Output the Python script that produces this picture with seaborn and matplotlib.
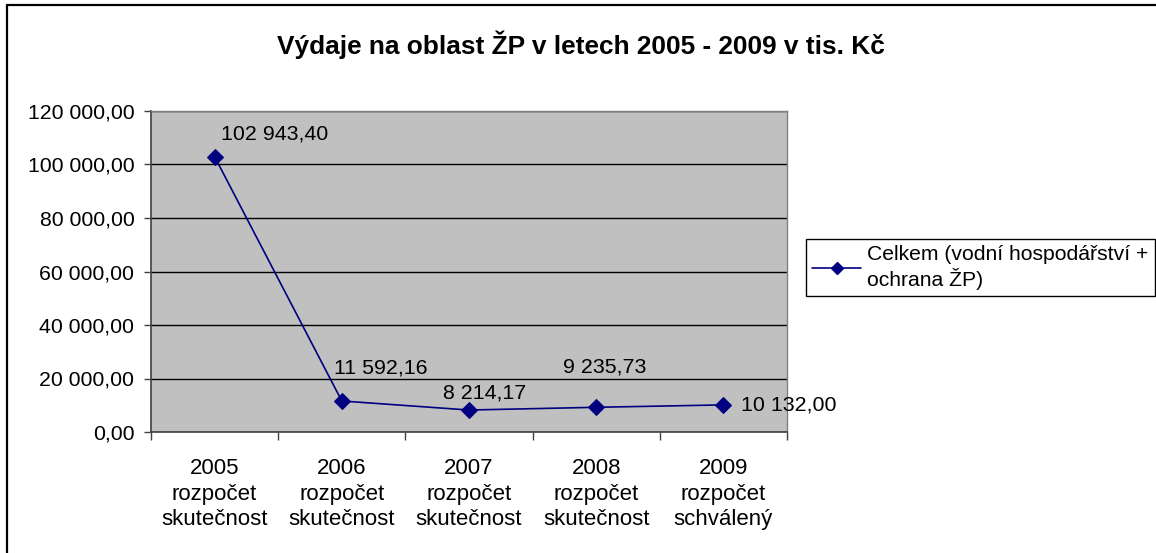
import matplotlib
matplotlib.use("Agg")
import matplotlib.pyplot as plt
import seaborn as sns
import pandas as pd
from matplotlib.ticker import FixedLocator, FuncFormatter
from matplotlib.lines import Line2D

# ======== DATA ========
years = ["2005", "2006", "2007", "2008", "2009"]
kinds = ["rozpočet\nskutečnost", "rozpočet\nskutečnost", "rozpočet\nskutečnost",
         "rozpočet\nskutečnost", "rozpočet\nschválený"]
values = [102943.40, 11592.16, 8214.17, 9235.73, 10132.00]
series_name = "Celkem (vodní hospodářství +\nochrana ŽP)"
title = "Výdaje na oblast ŽP v letech 2005 - 2009 v tis. Kč"

# label offsets in pixels (left edge of text relative to point)
label_dx = [6, -8, -26, -33, 18]
label_dy = [23, 33, 17, 40, 0]


def cz_fmt(v, pos=None):
    return f"{v:,.2f}".replace(",", " ").replace(".", ",")


df = pd.DataFrame({"pos": range(len(years)), "value": values,
                   "label": [f"{y}\n{k}" for y, k in zip(years, kinds)]})

# ======== STYLE ========
sns.set_theme(style="white")
plt.rcParams["font.family"] = ["Liberation Sans", "DejaVu Sans"]
plt.rcParams["text.color"] = "black"
plt.rcParams["xtick.color"] = "black"
plt.rcParams["ytick.color"] = "black"

fig = plt.figure(figsize=(11.56, 5.53), dpi=100)
ax = fig.add_axes([151 / 1156, 1 - 432 / 553, 636 / 1156, 321 / 553])
ax.set_facecolor("#C0C0C0")

sns.lineplot(data=df, x="pos", y="value", ax=ax, color="#000080", marker="D",
             markersize=8, markeredgecolor="#000080", linewidth=1.2, legend=False)

# ======== AXES ========
ax.set_xlim(-0.5, len(years) - 0.5)
ax.set_ylim(0, 120000)
ax.yaxis.set_major_locator(FixedLocator(range(0, 120001, 20000)))
ax.yaxis.set_major_formatter(FuncFormatter(cz_fmt))
ax.grid(axis="y", color="black", linewidth=1)
ax.set_axisbelow(True)

ax.xaxis.set_major_locator(FixedLocator([i - 0.5 for i in range(len(years) + 1)]))
ax.xaxis.set_major_formatter(FuncFormatter(lambda v, p: ""))
ax.xaxis.set_minor_locator(FixedLocator(df["pos"].tolist()))
ax.set_xticklabels(df["label"], minor=True)
ax.tick_params(axis="x", which="major", length=6, width=1, color="#404040", direction="out", bottom=True)
ax.tick_params(axis="x", which="minor", length=0, pad=19, labelsize=16, labelcolor="black")
ax.tick_params(axis="y", length=5, width=1, color="#404040", direction="out", left=True,
               labelsize=15.3, pad=7, labelcolor="black")
ax.set_xlabel("")
ax.set_ylabel("")
for lbl in ax.get_xticklabels(minor=True):
    lbl.set_linespacing(1.28)
    lbl.set_ha("center")

for side in ["left", "bottom"]:
    ax.spines[side].set_color("#404040")
    ax.spines[side].set_linewidth(1.2)
for side in ["top", "right"]:
    ax.spines[side].set_color("#808080")
    ax.spines[side].set_linewidth(1)

# ======== DATA LABELS ========
for i, v in enumerate(values):
    ax.annotate(cz_fmt(v), (i, v), xytext=(label_dx[i] * 0.72, label_dy[i] * 0.72),
                textcoords="offset points", ha="left", va="center", fontsize=15.4,
                color="black")

# ======== TITLE ========
fig.text(581 / 1156, 1 - 45 / 553, title, ha="center", va="center",
         fontsize=18.9, fontweight="bold", color="black")

# ======== LEGEND ========
handle = Line2D([], [], color="#000080", marker="D", markersize=6, linewidth=1.2)
leg = fig.legend([handle], [series_name], loc="upper left",
                 bbox_to_anchor=(806 / 1156, 1 - 239 / 553), fontsize=15.2,
                 frameon=True, fancybox=False, borderpad=0.3, handlelength=2.3,
                 handletextpad=0.3, borderaxespad=0, labelcolor="black")
leg.get_frame().set_edgecolor("black")
leg.get_frame().set_linewidth(1)
leg.get_frame().set_alpha(1)

# ======== OUTER FRAME ========
fig.add_artist(Line2D([7 / 1156, 7 / 1156], [0, 1 - 5 / 553], color="black", linewidth=1.6,
                      transform=fig.transFigure))
fig.add_artist(Line2D([7 / 1156, 1], [1 - 5 / 553, 1 - 5 / 553], color="black", linewidth=1.6,
                      transform=fig.transFigure))

fig.savefig("out.png", dpi=100, facecolor="white")
